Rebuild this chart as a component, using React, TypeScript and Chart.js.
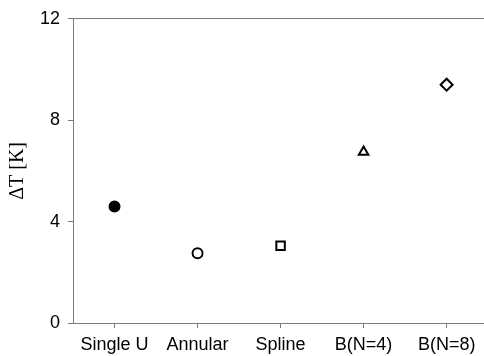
import React, { useEffect, useRef } from "react";
import { Chart, registerables } from "chart.js";

Chart.register(...registerables);

// Configurations along the x axis
const categories = ["Single U", "Annular", "Spline", "B(N=4)", "B(N=8)"];
// Temperature difference ΔT [K] per configuration
const deltaT = [4.6, 2.75, 3.05, 6.75, 9.4];
// Marker styles per configuration
const markerStyles = ["circle", "circle", "rect", "triangle", "rectRot"];
const markerFills = ["#000000", "#ffffff", "#ffffff", "#ffffff", "#ffffff"];
const markerRadii = [5, 5, 6, 5.5, 6];
// Y axis tick values
const yTicks = [0, 4, 8, 12];

const AXIS_COLOR = "#7a7a7a";
const TICK_FONT = { family: "'Liberation Sans', Arial, sans-serif", size: 18 };

export default function App() {
  const canvasRef = useRef<HTMLCanvasElement | null>(null);

  useEffect(() => {
    const canvas = canvasRef.current;
    if (!canvas) return;

    const points = categories.map((_, i) => ({ x: i + 1, y: deltaT[i] }));

    const chart = new Chart(canvas, {
      type: "scatter",
      data: {
        datasets: [
          {
            data: points,
            pointStyle: markerStyles as any,
            pointRadius: markerRadii,
            pointHoverRadius: markerRadii,
            backgroundColor: markerFills,
            borderColor: "#000000",
            pointBorderWidth: 2,
            borderWidth: 2,
          },
        ],
      },
      options: {
        animation: false,
        responsive: false,
        maintainAspectRatio: false,
        events: [],
        layout: { autoPadding: false, padding: { top: 18, right: 0, bottom: 0, left: 0 } },
        plugins: {
          legend: { display: false },
          tooltip: { enabled: false },
        },
        scales: {
          x: {
            type: "linear",
            min: 0.5,
            max: 5.45,
            afterBuildTicks: (scale: any) => {
              scale.ticks = categories.map((_, i) => ({ value: i + 1 }));
            },
            afterFit: (scale: any) => {
              scale.height = 33;
              // the plot runs to the right edge of the canvas
              scale.paddingLeft = 0;
              scale.paddingRight = 0;
            },
            grid: {
              drawOnChartArea: false,
              drawTicks: true,
              tickLength: 5,
              tickColor: AXIS_COLOR,
            },
            border: { display: true, color: AXIS_COLOR, width: 1 },
            ticks: {
              autoSkip: false,
              maxRotation: 0,
              padding: 6,
              color: "#000000",
              font: TICK_FONT,
              callback: (v: any) => {
                const idx = Math.round(Number(v)) - 1;
                return categories[idx] ?? "";
              },
            },
          },
          y: {
            type: "linear",
            min: 0,
            max: 12,
            afterBuildTicks: (scale: any) => {
              scale.ticks = yTicks.map((v) => ({ value: v }));
            },
            afterFit: (scale: any) => {
              scale.width = 73;
            },
            grid: {
              drawOnChartArea: true,
              drawTicks: true,
              tickLength: 5,
              tickColor: AXIS_COLOR,
              color: (ctx: any) =>
                ctx.tick && ctx.tick.value === 12 ? AXIS_COLOR : "rgba(0,0,0,0)",
            },
            border: { display: true, color: AXIS_COLOR, width: 1 },
            ticks: {
              padding: 8,
              color: "#000000",
              font: TICK_FONT,
            },
            title: {
              display: true,
              text: "ΔT [K]",
              color: "#000000",
              font: { family: "'Liberation Serif', 'Times New Roman', serif", size: 20 },
              padding: { top: 6, bottom: 0 },
            },
          },
        },
      },
    });

    return () => chart.destroy();
  }, []);

  return (
    <div style={{ position: "absolute", left: 0, top: 0, width: 484, height: 356, background: "#ffffff" }}>
      <canvas ref={canvasRef} width={484} height={356} style={{ display: "block" }} />
    </div>
  );
}
